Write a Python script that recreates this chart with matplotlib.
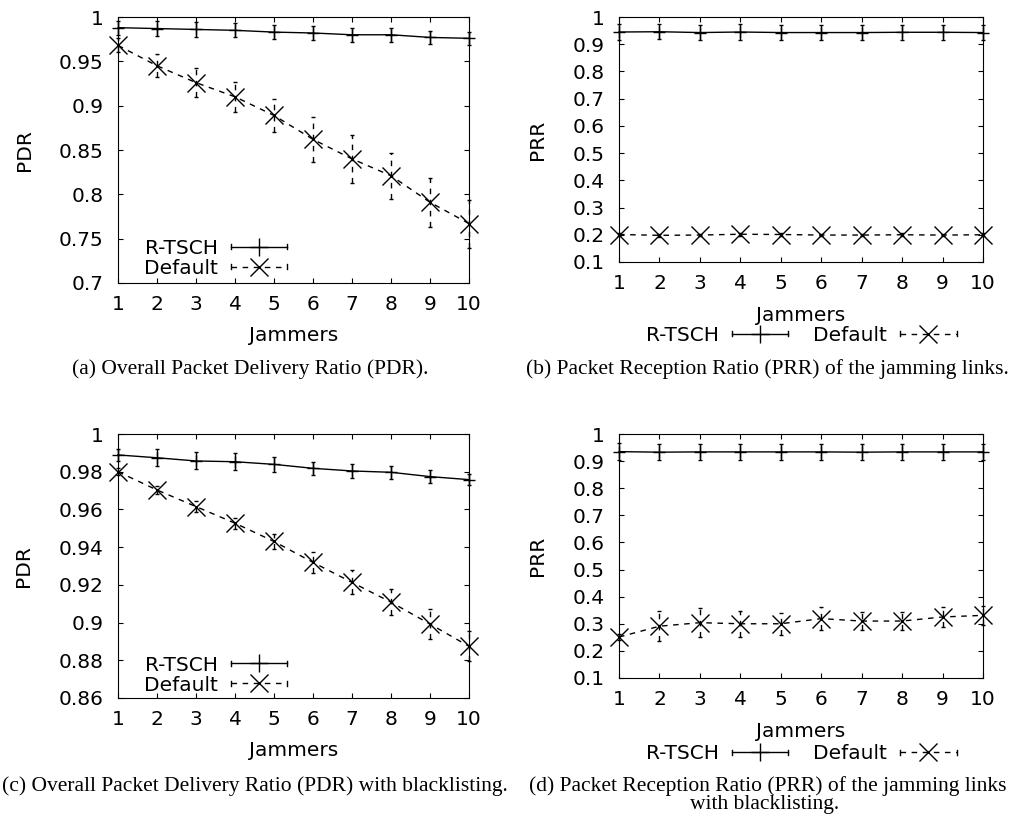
import matplotlib
matplotlib.use("Agg")
import matplotlib.pyplot as plt
from matplotlib.legend_handler import HandlerLine2D
from matplotlib.lines import Line2D
from matplotlib.ticker import FuncFormatter, MultipleLocator

plt.rcParams['font.family'] = 'DejaVu Sans'

jammers = [1, 2, 3, 4, 5, 6, 7, 8, 9, 10]

# (a) overall PDR
a_rtsch = [0.988, 0.987, 0.986, 0.985, 0.983, 0.982, 0.980, 0.980, 0.977, 0.976]
a_rtsch_err = [0.008, 0.008, 0.008, 0.008, 0.008, 0.008, 0.008, 0.008, 0.007, 0.007]
a_def = [0.968, 0.945, 0.926, 0.910, 0.889, 0.862, 0.840, 0.821, 0.791, 0.767]
a_def_err = [0.008, 0.013, 0.016, 0.017, 0.019, 0.025, 0.027, 0.026, 0.028, 0.027]

# (b) PRR of jamming links
b_rtsch = [0.945, 0.946, 0.943, 0.945, 0.943, 0.943, 0.943, 0.944, 0.944, 0.943]
b_rtsch_err = [0.028] * 10
b_def = [0.201, 0.198, 0.199, 0.202, 0.201, 0.199, 0.199, 0.200, 0.199, 0.200]
b_def_err = [0.005] * 10

# (c) overall PDR with blacklisting
c_rtsch = [0.9889, 0.9874, 0.9857, 0.9853, 0.9839, 0.9818, 0.9804, 0.9797, 0.9774, 0.9758]
c_rtsch_err = [0.003, 0.0045, 0.0045, 0.0045, 0.004, 0.0035, 0.0035, 0.0035, 0.0035, 0.003]
c_def = [0.980, 0.9703, 0.9615, 0.9527, 0.943, 0.9319, 0.9213, 0.9108, 0.8992, 0.8874]
c_def_err = [0.002, 0.002, 0.003, 0.003, 0.004, 0.0055, 0.0064, 0.007, 0.0078, 0.008]

# (d) PRR with blacklisting
d_rtsch = [0.935, 0.933, 0.934, 0.934, 0.934, 0.934, 0.933, 0.934, 0.934, 0.934]
d_rtsch_err = [0.03] * 10
d_def = [0.251, 0.291, 0.304, 0.300, 0.300, 0.319, 0.310, 0.310, 0.325, 0.331]
d_def_err = [0.01, 0.056, 0.054, 0.047, 0.041, 0.041, 0.034, 0.034, 0.037, 0.035]

FS = 14.5
DASH = (4, 4)


class HandlerErr(HandlerLine2D):
    # gnuplot style key sample: line with small end ticks
    def create_artists(self, legend, orig_handle, xdescent, ydescent,
                       width, height, fontsize, trans):
        arts = super().create_artists(legend, orig_handle, xdescent, ydescent,
                                      width, height, fontsize, trans)
        y = (height - ydescent) / 2
        h = height * 0.18
        for x in (-xdescent, -xdescent + width):
            arts.append(Line2D([x, x], [y - h, y + h], color='black', lw=1,
                               transform=trans))
        return arts


def panel(ax, rt, rt_err, df, df_err, ylim, ystep, ylabel, xlabelpad):
    e1 = ax.errorbar(jammers, rt, yerr=rt_err, color='black', lw=1,
                     marker='+', ms=9, mew=1, capsize=1.5, elinewidth=1)
    e2 = ax.errorbar(jammers, df, yerr=df_err, color='black', lw=1,
                     marker='x', ms=13, mew=1, capsize=1.5, elinewidth=1,
                     dashes=DASH)
    for bc in e2[2]:
        bc.set_linestyle((0, DASH))
    for art in list(e1.lines) + list(e2.lines):
        if art is None:
            continue
        if isinstance(art, tuple):
            for a in art:
                a.set_clip_on(False)
        else:
            art.set_clip_on(False)
    ax.set_xlim(1, 10)
    ax.set_ylim(*ylim)
    ax.set_xticks(jammers)
    ax.yaxis.set_major_locator(MultipleLocator(ystep))
    ax.yaxis.set_major_formatter(FuncFormatter(lambda v, p: '%g' % round(v, 4)))
    ax.tick_params(direction='in', length=3.5, top=True, right=True,
                   labelsize=FS)
    ax.tick_params(axis='x', pad=9)
    ax.tick_params(axis='y', pad=10.5)
    ax.set_xlabel('Jammers', fontsize=FS, labelpad=xlabelpad)
    ax.set_ylabel(ylabel, fontsize=FS, labelpad=18)
    h1 = Line2D([], [], color='black', lw=1, marker='+', ms=13, mew=1)
    h2 = Line2D([], [], color='black', lw=1, marker='x', ms=13, mew=1,
                dashes=DASH)
    return h1, h2


fig = plt.figure(figsize=(10.21, 8.27), dpi=100)

ax_a = fig.add_axes([0.1156, 0.6578, 0.3438, 0.3216])
ax_b = fig.add_axes([0.6063, 0.6832, 0.3565, 0.2962])
ax_c = fig.add_axes([0.1156, 0.1560, 0.3438, 0.3192])
ax_d = fig.add_axes([0.6063, 0.1802, 0.3565, 0.2950])

hm = {Line2D: HandlerErr(numpoints=1)}
leg_kw = dict(frameon=False, markerfirst=False, fontsize=FS, handlelength=2.8,
              handletextpad=0.65, borderpad=0, labelspacing=0.05,
              handler_map=hm)

h1, h2 = panel(ax_a, a_rtsch, a_rtsch_err, a_def, a_def_err,
               (0.7, 1.0), 0.05, 'PDR', 8)
ax_a.legend([h1, h2], ['R-TSCH', 'Default'], loc='lower left',
            bbox_to_anchor=(0.045, -0.018), **leg_kw)

h1, h2 = panel(ax_b, b_rtsch, b_rtsch_err, b_def, b_def_err,
               (0.1, 1.0), 0.1, 'PRR', 9)
ax_b.legend([h1, h2], ['R-TSCH', 'Default'], loc='center',
            bbox_to_anchor=(0.5, -0.30), ncol=2, columnspacing=1.25, **leg_kw)

h1, h2 = panel(ax_c, c_rtsch, c_rtsch_err, c_def, c_def_err,
               (0.86, 1.0), 0.02, 'PDR', 8)
ax_c.legend([h1, h2], ['R-TSCH', 'Default'], loc='lower left',
            bbox_to_anchor=(0.045, -0.025), **leg_kw)

h1, h2 = panel(ax_d, d_rtsch, d_rtsch_err, d_def, d_def_err,
               (0.1, 1.0), 0.1, 'PRR', 9)
ax_d.legend([h1, h2], ['R-TSCH', 'Default'], loc='center',
            bbox_to_anchor=(0.5, -0.31), ncol=2, columnspacing=1.25, **leg_kw)

cap = dict(family='Liberation Serif', fontsize=15.5, ha='center', va='center')
fig.text(250 / 1021, 1 - 369 / 827, '(a) Overall Packet Delivery Ratio (PDR).', **cap)
fig.text(767 / 1021, 1 - 369 / 827,
         '(b) Packet Reception Ratio (PRR) of the jamming links.', **cap)
fig.text(255 / 1021, 1 - 786 / 827,
         '(c) Overall Packet Delivery Ratio (PDR) with blacklisting.', **cap)
fig.text(768 / 1021, 1 - 786 / 827,
         '(d) Packet Reception Ratio (PRR) of the jamming links', **cap)
fig.text(765 / 1021, 1 - 804 / 827, 'with blacklisting.', **cap)

fig.savefig('out.png', dpi=100)
